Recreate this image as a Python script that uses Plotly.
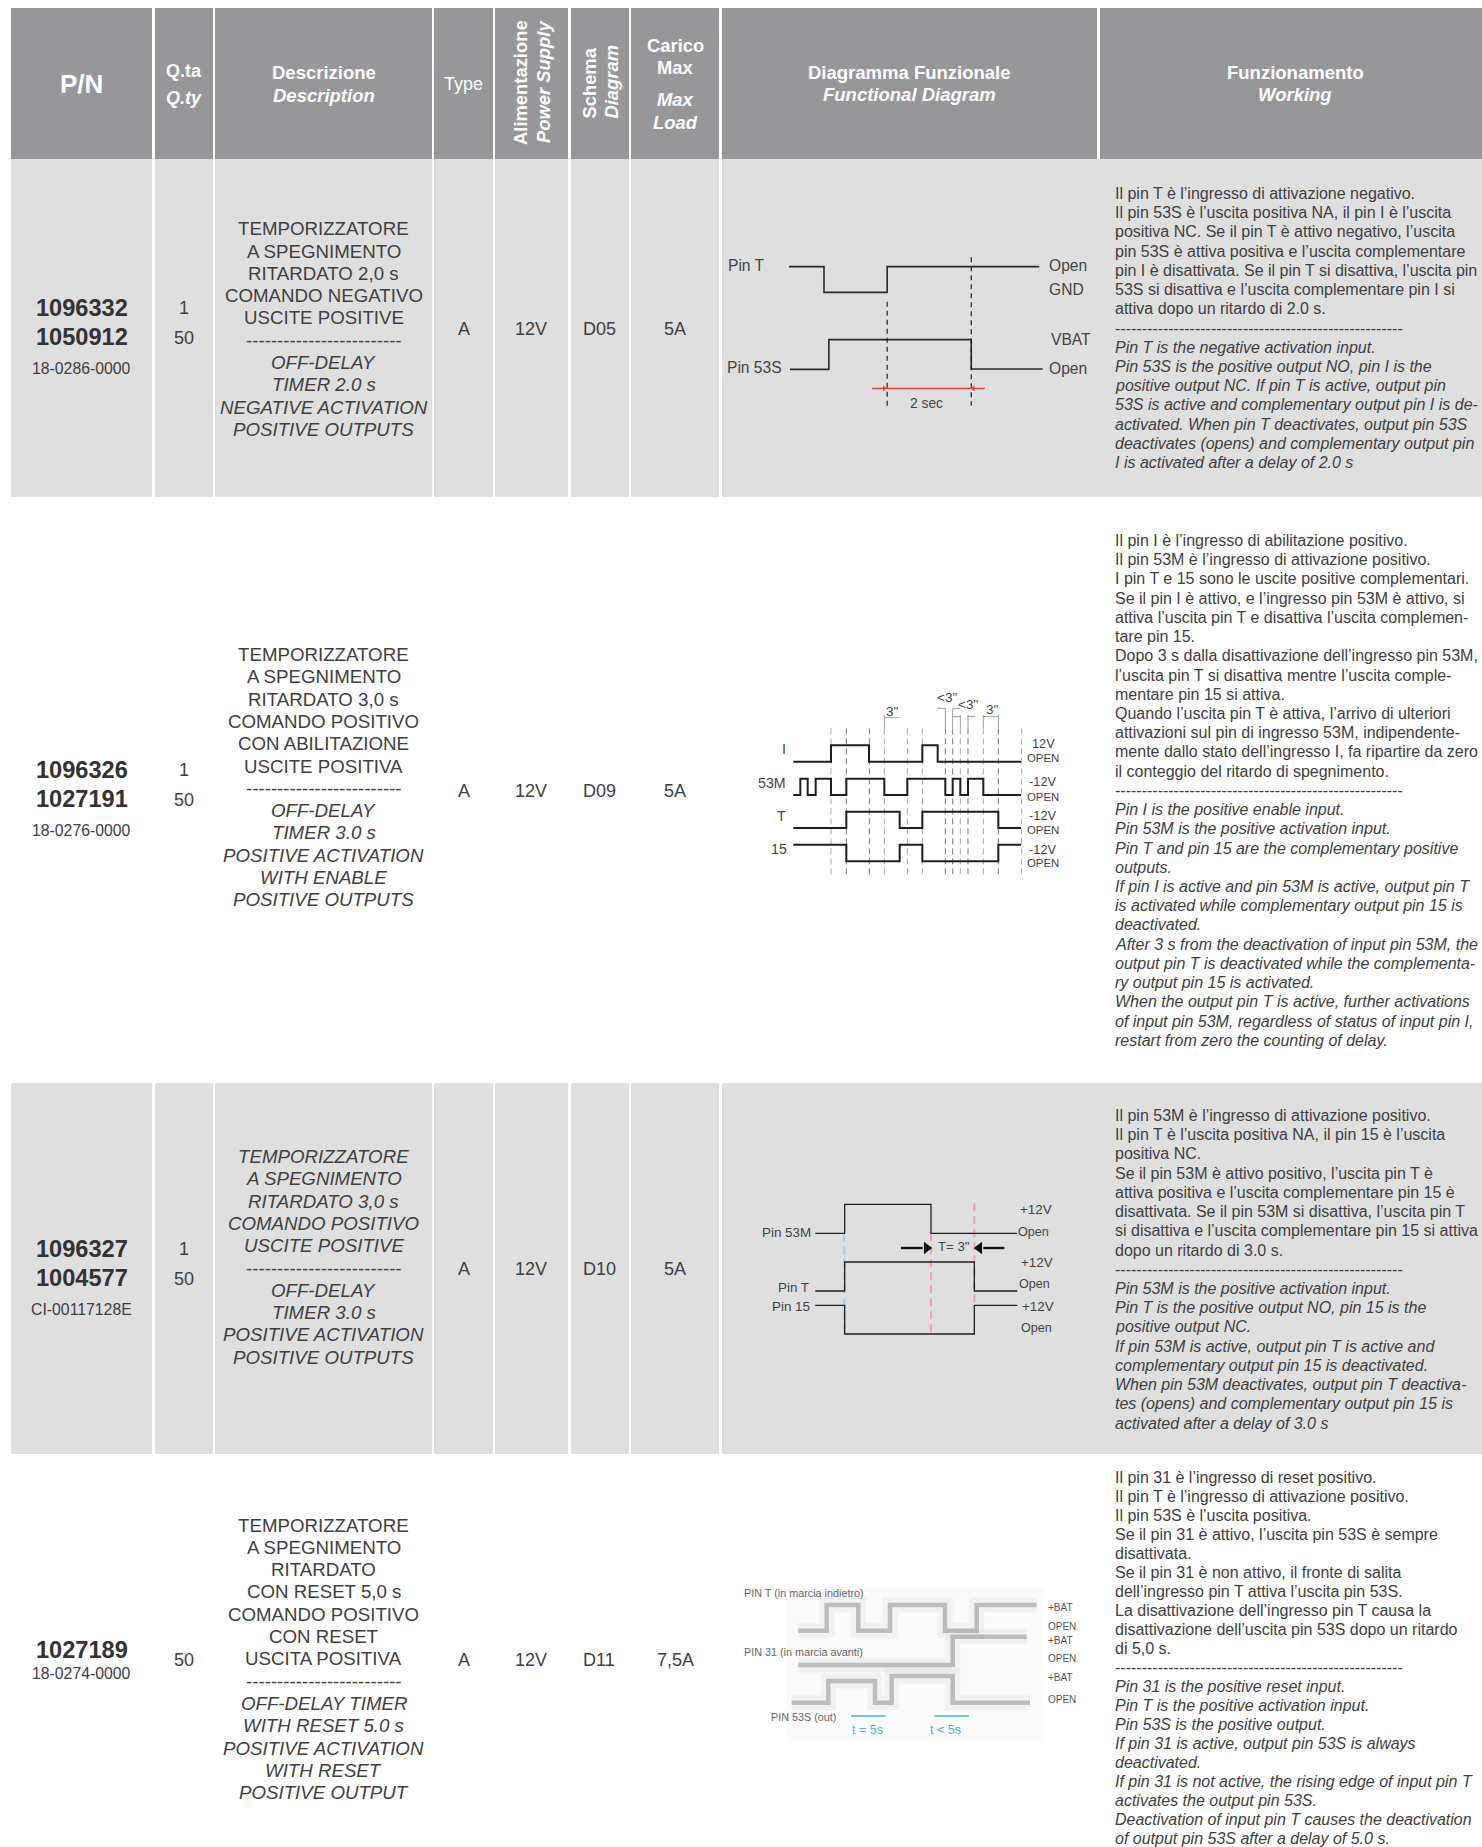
import plotly.graph_objects as go

W, H = 1482, 1847
FONT = "Liberation Sans"
TXT = "#404040"

# ---------- table structure ----------
col_edges = [(11, 152), (155, 213), (215, 432), (434, 493), (495, 568), (571, 629), (631, 719), (722, 1097), (1100, 1482)]
col_body = col_edges[:7] + [(722, 1482)]
header_band = (8, 159)
shaded_rows = [(159, 497), (1083, 1454)]
col_c = dict(pn=81.7, q=183.7, desc=323.7, type=463.7, alim=531, sch=599, car=675.4)

# ---------- table content ----------
part_numbers = [["1096332", "1050912"], ["1096326", "1027191"], ["1096327", "1004577"], ["1027189"]]
part_y = [[307.5, 336.5], [769.5, 799], [1248.5, 1278], [1650]]
part_codes = ["18-0286-0000", "18-0276-0000", "CI-00117128E", "18-0274-0000"]
code_y = [368, 830.5, 1309, 1673]
quantities = [["1", "50"], ["1", "50"], ["1", "50"], ["50"]]
qty_y = [[308, 338], [770, 800], [1249, 1279], [1660]]
types = ["A", "A", "A", "A"]
supply = ["12V", "12V", "12V", "12V"]
schema = ["D05", "D09", "D10", "D11"]
loads = ["5A", "5A", "5A", "7,5A"]
mid_y = [329, 790.5, 1269, 1660]

DASH_D = "-------------------------"
desc_it = [
    ["TEMPORIZZATORE", "A SPEGNIMENTO", "RITARDATO 2,0 s", "COMANDO NEGATIVO", "USCITE POSITIVE"],
    ["TEMPORIZZATORE", "A SPEGNIMENTO", "RITARDATO 3,0 s", "COMANDO POSITIVO", "CON ABILITAZIONE", "USCITE POSITIVA"],
    ["TEMPORIZZATORE", "A SPEGNIMENTO", "RITARDATO 3,0 s", "COMANDO POSITIVO", "USCITE POSITIVE"],
    ["TEMPORIZZATORE", "A SPEGNIMENTO", "RITARDATO", "CON RESET 5,0 s", "COMANDO POSITIVO", "CON RESET", "USCITA POSITIVA"],
]
desc_en = [
    ["OFF-DELAY", "TIMER 2.0 s", "NEGATIVE ACTIVATION", "POSITIVE OUTPUTS"],
    ["OFF-DELAY", "TIMER 3.0 s", "POSITIVE ACTIVATION", "WITH ENABLE", "POSITIVE OUTPUTS"],
    ["OFF-DELAY", "TIMER 3.0 s", "POSITIVE ACTIVATION", "POSITIVE OUTPUTS"],
    ["OFF-DELAY TIMER", "WITH RESET 5.0 s", "POSITIVE ACTIVATION", "WITH RESET", "POSITIVE OUTPUT"],
]
desc_italic_it = [False, False, True, False]
desc_top = [228.7, 654.5, 1156.5, 1525]
DESC_STEP = 22.3

DASH_W = "-" * 54
work_it = [
    ["Il pin T è l’ingresso di attivazione negativo.",
     "Il pin 53S è l’uscita positiva NA, il pin I è l’uscita",
     "positiva NC. Se il pin T è attivo negativo, l’uscita",
     "pin 53S è attiva positiva e l’uscita complementare",
     "pin I è disattivata. Se il pin T si disattiva, l’uscita pin",
     "53S si disattiva e l’uscita complementare pin I si",
     "attiva dopo un ritardo di 2.0 s."],
    ["Il pin I è l’ingresso di abilitazione positivo.",
     "Il pin 53M è l’ingresso di attivazione positivo.",
     "I pin T e 15 sono le uscite positive complementari.",
     "Se il pin I è attivo, e l’ingresso pin 53M è attivo, si",
     "attiva l’uscita pin T e disattiva l’uscita complemen-",
     "tare pin 15.",
     "Dopo 3 s dalla disattivazione dell’ingresso pin 53M,",
     "l’uscita pin T si disattiva mentre l’uscita comple-",
     "mentare pin 15 si attiva.",
     "Quando l’uscita pin T è attiva, l’arrivo di ulteriori",
     "attivazioni sul pin di ingresso 53M, indipendente-",
     "mente dallo stato dell’ingresso I, fa ripartire da zero",
     "il conteggio del ritardo di spegnimento."],
    ["Il pin 53M è l’ingresso di attivazione positivo.",
     "Il pin T è l’uscita positiva NA, il pin 15 è l’uscita",
     "positiva NC.",
     "Se il pin 53M è attivo positivo, l’uscita pin T è",
     "attiva positiva e l’uscita complementare pin 15 è",
     "disattivata. Se il pin 53M si disattiva, l’uscita pin T",
     "si disattiva e l’uscita complementare pin 15 si attiva",
     "dopo un ritardo di 3.0 s."],
    ["Il pin 31 è l’ingresso di reset positivo.",
     "Il pin T è l’ingresso di attivazione positivo.",
     "Il pin 53S è l’uscita positiva.",
     "Se il pin 31 è attivo, l’uscita pin 53S è sempre",
     "disattivata.",
     "Se il pin 31 è non attivo, il fronte di salita",
     "dell’ingresso pin T attiva l’uscita pin 53S.",
     "La disattivazione dell’ingresso pin T causa la",
     "disattivazione dell’uscita pin 53S dopo un ritardo",
     "di 5,0 s."],
]
work_en = [
    ["Pin T is the negative activation input.",
     "Pin 53S is the positive output NO, pin I is the",
     "positive output NC. If pin T is active, output pin",
     "53S is active and complementary output pin I is de-",
     "activated. When pin T deactivates, output pin 53S",
     "deactivates (opens) and complementary output pin",
     "I is activated after a delay of 2.0 s"],
    ["Pin I is the positive enable input.",
     "Pin 53M is the positive activation input.",
     "Pin T and pin 15 are the complementary positive",
     "outputs.",
     "If pin I is active and pin 53M is active, output pin T",
     "is activated while complementary output pin 15 is",
     "deactivated.",
     "After 3 s from the deactivation of input pin 53M, the",
     "output pin T is deactivated while the complementa-",
     "ry output pin 15 is activated.",
     "When the output pin T is active, further activations",
     "of input pin 53M, regardless of status of input pin I,",
     "restart from zero the counting of delay."],
    ["Pin 53M is the positive activation input.",
     "Pin T is the positive output NO, pin 15 is the",
     "positive output NC.",
     "If pin 53M is active, output pin T is active and",
     "complementary output pin 15 is deactivated.",
     "When pin 53M deactivates, output pin T deactiva-",
     "tes (opens) and complementary output pin 15 is",
     "activated after a delay of 3.0 s"],
    ["Pin 31 is the positive reset input.",
     "Pin T is the positive activation input.",
     "Pin 53S is the positive output.",
     "If pin 31 is active, output pin 53S is always",
     "deactivated.",
     "If pin 31 is not active, the rising edge of input pin T",
     "activates the output pin 53S.",
     "Deactivation of input pin T causes the deactivation",
     "of output pin 53S after a delay of 5.0 s."],
]
work_top = [193.5, 540.5, 1115.5, 1477]
work_step = [19.22, 19.22, 19.22, 19.0]
WORK_X = 1113.5

# ---------- functional diagrams (each on its own axes) ----------
# diagram 1
d1_T_t = [142, 214, 344, 657];        d1_T_v = [800, 877, 800, 800]
d1_53S_t = [144, 224, 517, 664];      d1_53S_v = [1108, 1019, 1107, 1107]
d1_marks = [(344, 905, 1222), (517, 772, 1217)]
d1_delay = [313, 545]; d1_delay_y = 1165
d1_labels = [("Pin T", 55, 796), ("Pin 53S", 72, 1103), ("Open", 716, 795), ("GND", 713, 869),
             ("VBAT", 723, 1018), ("Open", 717, 1106)]
# diagram 2
d2_I_t = [190, 303, 417, 577, 623, 873];    d2_I_v = [245, 196, 245, 196, 245, 245]
d2_M_t = [190, 211, 233, 257, 303, 349, 463, 532, 646, 668, 691, 714, 760, 873]
d2_M_v = [345, 296, 345, 296, 345, 296, 345, 296, 345, 296, 345, 296, 345, 345]
d2_T_t = [190, 349, 509, 577, 805, 873];    d2_T_v = [444, 395, 444, 395, 444, 444]
d2_15_t = [190, 349, 509, 577, 805, 873];   d2_15_v = [494, 544, 494, 544, 494, 494]
d2_grid_light = [303, 463, 532, 577, 691, 760, 875]
d2_grid_dark = [349, 418, 646, 668, 714, 805]
d2_dim = [(463, 508, 113), (622, 646, 85), (668, 690, 85), (668, 691, 110), (714, 736, 110), (760, 805, 110)]
d2_ext = [(463, 105, 145), (646, 85, 145), (668, 85, 145), (691, 105, 145), (714, 105, 145), (760, 105, 145), (805, 105, 145)]
d2_names = [("I", 163, 208), ("53M", 125, 308), ("T", 155, 407), ("15", 148, 506)]
d2_right = [("12V", 940, 190), ("OPEN", 938, 233), ("-12V", 938, 305), ("OPEN", 938, 350),
            ("-12V", 938, 407), ("OPEN", 938, 449), ("-12V", 938, 507), ("OPEN", 938, 548)]
d2_times = [('3"', 488, 93), ('<3"', 652, 52), ('<3"', 713, 72), ('3"', 787, 87)]
# diagram 3
d3_M_t = [256, 344, 603, 862];  d3_M_v = [190, 103, 190, 190]
d3_T_t = [256, 344, 733, 862];  d3_T_v = [363, 276, 363, 363]
d3_15_t = [256, 344, 733, 862]; d3_15_v = [406, 492, 406, 406]
d3_blue = (343, 190, 492)
d3_pink = [(603, 190, 492), (733, 100, 400)]
d3_arrow_l = [513, 578]; d3_arrow_r = [823, 760]; d3_arrow_y = 234
d3_left = [("Pin 53M", 245, 186), ("Pin T", 241, 353), ("Pin 15", 243, 408)]
d3_right = [("+12V", 918, 118), ("Open", 911, 187), ("+12V", 920, 276), ("Open", 914, 343),
            ("+12V", 923, 408), ("Open", 918, 475)]
# diagram 4
d4_T_t = [205, 290, 385, 480, 645, 740, 920]; d4_T_v = [182, 105, 182, 105, 182, 105, 105]
d4_31_t = [205, 668, 890];                    d4_31_v = [285, 200, 200]
d4_53_t = [185, 295, 435, 485, 668, 900];     d4_53_v = [398, 333, 398, 318, 398, 398]
d4_blue = [(363, 467), (613, 717)]; d4_blue_y = 438
d4_names = [("PIN T (in marcia indietro)", 38, 70), ("PIN 31 (in marcia avanti)", 38, 245), ("PIN 53S (out)", 120, 440)]
d4_right = [("+BAT", 112), ("OPEN", 168), ("+BAT", 212), ("OPEN", 265), ("+BAT", 322), ("OPEN", 388)]
d4_times = [("t = 5s", 412, 480), ("t < 5s", 647, 480)]

# ---------- helpers ----------
ann, shp = [], []
fig = go.Figure()


def text(s, x, y, size, color=TXT, bold=False, italic=False, anchor="center", xref="x", yref="y", angle=0):
    if bold:
        s = f"<b>{s}</b>"
    if italic:
        s = f"<i>{s}</i>"
    ann.append(dict(text=s, x=x, y=y, xref=xref, yref=yref, xanchor=anchor, yanchor="middle", showarrow=False,
                    textangle=angle, font=dict(family=FONT, size=size, color=color), borderpad=0))


def line(x, y, color="#222222", width=1.5, dash=None, xa="x", ya="y", shape="hv", opacity=1):
    fig.add_trace(go.Scatter(x=x, y=y, mode="lines", xaxis=xa, yaxis=ya, hoverinfo="skip", showlegend=False, opacity=opacity,
                             line=dict(color=color, width=width, dash=dash, shape=shape)))


def rect(x0, x1, y0, y1, color):
    shp.append(dict(type="rect", xref="x", yref="y", x0=x0, x1=x1, y0=y0, y1=y1, fillcolor=color, line_width=0, layer="below"))


# ---------- backgrounds ----------
for a, b in col_edges:
    rect(a, b, header_band[0], header_band[1], "#97979a")
for top, bot in shaded_rows:
    for a, b in col_body:
        rect(a, b, top, bot, "#dfdfdf")
rect(787, 1044, 1587, 1743, "#fbfbfb")

# ---------- header ----------
HW = "white"
text("P/N", col_c["pn"], 83.5, 26, HW, bold=True)
text("Q.ta", col_c["q"], 70.7, 18, HW, bold=True)
text("Q.ty", col_c["q"], 98, 18, HW, bold=True, italic=True)
text("Descrizione", col_c["desc"], 72.7, 18.5, HW, bold=True)
text("Description", col_c["desc"], 95, 18.5, HW, bold=True, italic=True)
text("Type", col_c["type"], 84, 18, HW)
text("Alimentazione", 520, 83, 18.4, HW, bold=True, angle=-90)
text("Power Supply", 543, 82, 18.4, HW, bold=True, italic=True, angle=-90)
text("Schema", 588.6, 83, 18.4, HW, bold=True, angle=-90)
text("Diagram", 610.6, 82, 18.4, HW, bold=True, italic=True, angle=-90)
text("Carico", col_c["car"], 45, 18.4, HW, bold=True)
text("Max", col_c["car"], 67.7, 18.4, HW, bold=True)
text("Max", col_c["car"], 99.3, 18.4, HW, bold=True, italic=True)
text("Load", col_c["car"], 122.7, 18.4, HW, bold=True, italic=True)
text("Diagramma Funzionale", 909.5, 72.7, 18.5, HW, bold=True)
text("Functional Diagram", 909.5, 94.5, 18.5, HW, bold=True, italic=True)
text("Funzionamento", 1295, 72.7, 18.5, HW, bold=True)
text("Working", 1295, 94.5, 18.5, HW, bold=True, italic=True)

# ---------- rows ----------
for i in range(4):
    for s, y in zip(part_numbers[i], part_y[i]):
        text(s, col_c["pn"], y, 23.6, "#333333", bold=True)
    text(part_codes[i], col_c["pn"], code_y[i], 15.8)
    for s, y in zip(quantities[i], qty_y[i]):
        text(s, col_c["q"], y, 18)
    text(types[i], col_c["type"], mid_y[i], 18)
    text(supply[i], col_c["alim"], mid_y[i], 18)
    text(schema[i], col_c["sch"], mid_y[i], 18)
    text(loads[i], col_c["car"], mid_y[i], 18)
    y = desc_top[i]
    for s in desc_it[i]:
        text(s, col_c["desc"], y, 18.7, italic=desc_italic_it[i])
        y += DESC_STEP
    text(DASH_D, col_c["desc"], y, 18.7)
    y += DESC_STEP
    for s in desc_en[i]:
        text(s, col_c["desc"], y, 18.7, italic=True)
        y += DESC_STEP
    y = work_top[i]
    for s in work_it[i]:
        text(s, WORK_X, y, 16, anchor="left")
        y += work_step[i]
    text(DASH_W, WORK_X, y, 16, anchor="left")
    y += work_step[i]
    for s in work_en[i]:
        text(s, WORK_X, y, 16, italic=True, anchor="left")
        y += work_step[i]

# ---------- diagram 1 ----------
a1 = dict(xa="x2", ya="y2")
for t, v in ((d1_T_t, d1_T_v), (d1_53S_t, d1_53S_v)):
    line(t, v, "#2a2a2a", 1.6, **a1)
for x, y0, y1 in d1_marks:
    line([x, x], [y0, y1], "#222222", 1.2, "5px,4px", shape="linear", **a1)
line(d1_delay, [d1_delay_y] * 2, "#f23a3a", 1.3, shape="linear", **a1)
fig.add_trace(go.Scatter(x=[338, 521], y=[d1_delay_y] * 2, mode="markers", xaxis="x2", yaxis="y2", hoverinfo="skip", showlegend=False,
                         marker=dict(symbol=["triangle-right", "triangle-left"], size=5, color="#f23a3a")))
for s, x, y in d1_labels:
    text(s, x, y, 15.6, "#444444", xref="x2", yref="y2")
text("2 sec", 424, 1210, 13.8, "#444444", xref="x2", yref="y2")

# ---------- diagram 2 ----------
a2 = dict(xa="x3", ya="y3")
for x in d2_grid_light:
    line([x, x], [145, 595], "#a8a8a8", 1, "6px,4px", shape="linear", **a2)
for x in d2_grid_dark:
    line([x, x], [145, 595], "#777777", 1, "6px,4px", shape="linear", **a2)
for x, y0, y1 in d2_ext:
    line([x, x], [y0, y1], "#888888", 0.8, shape="linear", **a2)
for x0, x1, y in d2_dim:
    line([x0, x1], [y, y], "#888888", 0.8, shape="linear", **a2)
for t, v in ((d2_I_t, d2_I_v), (d2_M_t, d2_M_v), (d2_T_t, d2_T_v), (d2_15_t, d2_15_v)):
    line(t, v, "#1e1e1e", 2, **a2)
for s, x, y in d2_names:
    text(s, x, y, 14.2, "#444444", xref="x3", yref="y3")
for s, x, y in d2_right:
    text(s, x, y, 11.4 if s == "OPEN" else 12.8, "#444444", xref="x3", yref="y3")
for s, x, y in d2_times:
    text(s, x, y, 13.5, "#444444", xref="x3", yref="y3")

# ---------- diagram 3 ----------
a3 = dict(xa="x4", ya="y4")
x, y0, y1 = d3_blue
line([x, x], [y0, y1], "#a9cbe8", 2, "8px,5px", shape="linear", **a3)
for x, y0, y1 in d3_pink:
    line([x, x], [y0, y1], "#f59cc2", 2, "8px,5px", shape="linear", **a3)
for t, v in ((d3_M_t, d3_M_v), (d3_T_t, d3_T_v), (d3_15_t, d3_15_v)):
    line(t, v, "#1e1e1e", 1.3, **a3)
line(d3_arrow_l, [d3_arrow_y] * 2, "#111111", 2.4, shape="linear", **a3)
line(d3_arrow_r, [d3_arrow_y] * 2, "#111111", 2.4, shape="linear", **a3)
fig.add_trace(go.Scatter(x=[590, 748], y=[d3_arrow_y] * 2, mode="markers", xaxis="x4", yaxis="y4", hoverinfo="skip", showlegend=False,
                         marker=dict(symbol=["triangle-right", "triangle-left"], size=11, color="#111111")))
for s, x, y in d3_left:
    text(s, x, y, 13.4, "#444444", anchor="right", xref="x4", yref="y4")
for s, x, y in d3_right:
    text(s, x, y, 13.4 if "+" in s else 12.6, "#444444", xref="x4", yref="y4")
text('T= 3"', 672, 230, 13.2, "#444444", xref="x4", yref="y4")

# ---------- diagram 4 ----------
a4 = dict(xa="x5", ya="y5")
for t, v in ((d4_T_t, d4_T_v), (d4_31_t, d4_31_v), (d4_53_t, d4_53_v)):
    line(t, v, "#888888", 15, opacity=0.08, **a4)
    line(t, v, "#888888", 4.5, opacity=0.5, **a4)
for x0, x1 in d4_blue:
    line([x0, x1], [d4_blue_y] * 2, "#4ab0e6", 1.3, shape="linear", **a4)
for s, x, y in d4_names:
    text(s, x, y, 10.8, "#666666", anchor="left", xref="x5", yref="y5")
for s, y in d4_right:
    text(s, 952, y, 10, "#555555", anchor="left", xref="x5", yref="y5")
for s, x, y in d4_times:
    text(s, x, y, 12.5, "#4ab0e6", xref="x5", yref="y5")


# ---------- axes ----------
def ax(xr, px0, px1, total):
    return dict(range=xr, domain=[px0 / total, px1 / total], visible=False, fixedrange=True)


def yax(px0, px1, units):
    return dict(range=[units, 0], domain=[1 - px1 / H, 1 - px0 / H], visible=False, fixedrange=True)


layout = dict(
    width=W, height=H, margin=dict(l=0, r=0, t=0, b=0), paper_bgcolor="white", plot_bgcolor="rgba(0,0,0,0)",
    showlegend=False, shapes=shp, annotations=ann,
    xaxis=dict(range=[0, W], domain=[0, 1], visible=False, fixedrange=True),
    yaxis=dict(range=[H, 0], domain=[0, 1], visible=False, fixedrange=True),
    xaxis2=dict(ax([0, 1568], 720, 1482, W), anchor="y2"), yaxis2=dict(yax(0, 500, 1500), anchor="x2"),
    xaxis3=dict(ax([0, 1140], 730, 1110, W), anchor="y3"), yaxis3=dict(yax(680, 910, 690), anchor="x3"),
    xaxis4=dict(ax([0, 1140], 730, 1110, W), anchor="y4"), yaxis4=dict(yax(1170, 1370, 600), anchor="x4"),
    xaxis5=dict(ax([0, 1140], 730, 1110, W), anchor="y5"), yaxis5=dict(yax(1570, 1770, 600), anchor="x5"),
)
fig.update_layout(**layout)
fig.write_html("out.html", config=dict(displayModeBar=False, staticPlot=True),
               post_script="document.body.style.margin='0';document.documentElement.style.overflow='hidden';")
